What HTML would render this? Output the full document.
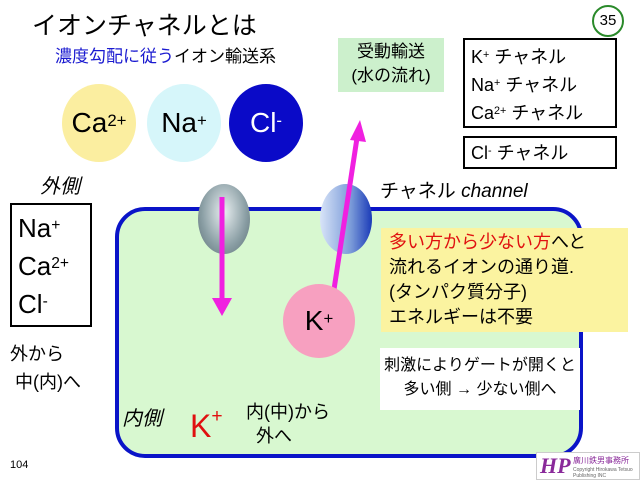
<!DOCTYPE html>
<html><head><meta charset="utf-8"><style>
body{margin:0;width:640px;height:480px;background:#fff;position:relative;overflow:hidden;font-family:"Liberation Sans","Noto Sans CJK JP",sans-serif;color:#000}
.a{position:absolute;white-space:nowrap}
sup{font-size:60%;vertical-align:top;position:relative;top:-2px}
</style></head><body>
<div class="a" style="left:32px;top:6px;font-size:25px">イオンチャネルとは</div>
<div class="a" style="left:55px;top:42px;font-size:17px"><span style="color:#1a1ad0">濃度勾配に従う</span>イオン輸送系</div>
<div class="a" style="left:592px;top:5px;width:28px;height:28px;border:2px solid #2a8a2a;border-radius:50%;font-size:15px;text-align:center;line-height:28px">35</div>
<div class="a" style="left:338px;top:38px;width:106px;height:52px;background:#ccf0cc;font-size:17px;line-height:24px;text-align:center;padding-top:2px">受動輸送<br>(水の流れ)</div>
<div class="a" style="left:463px;top:38px;width:154px;border:2px solid #000;font-size:18px;line-height:28px;padding-left:6px;box-sizing:border-box;height:90px;padding-top:3px">K<sup>+</sup> チャネル<br>Na<sup>+</sup> チャネル<br>Ca<sup>2+</sup> チャネル</div>
<div class="a" style="left:463px;top:136px;width:154px;height:33px;border:2px solid #000;box-sizing:border-box;font-size:18px;line-height:30px;padding-left:6px">Cl<sup>-</sup> チャネル</div>
<div class="a" style="left:62px;top:84px;width:74px;height:78px;border-radius:50%;background:#fbeea0;font-size:28px;text-align:center;line-height:78px">Ca<sup>2+</sup></div>
<div class="a" style="left:147px;top:84px;width:74px;height:78px;border-radius:50%;background:#d6f6fa;font-size:28px;text-align:center;line-height:78px">Na<sup>+</sup></div>
<div class="a" style="left:229px;top:84px;width:74px;height:78px;border-radius:50%;background:#0a0ac8;color:#fff;font-size:28px;text-align:center;line-height:78px">Cl<sup>-</sup></div>
<div class="a" style="left:40px;top:170px;font-size:20px;font-style:italic">外側</div>
<div class="a" style="left:115px;top:207px;width:468px;height:251px;box-sizing:border-box;border:4px solid #0a14c8;border-radius:30px;background:#d8f8d0"></div>
<div class="a" style="left:10px;top:203px;width:82px;height:124px;border:2px solid #000;box-sizing:border-box;font-size:26px;line-height:38px;padding:4px 0 0 6px">Na<sup>+</sup><br>Ca<sup>2+</sup><br>Cl<sup>-</sup></div>
<div class="a" style="left:10px;top:340px;font-size:18px;line-height:28px">外から<br>&nbsp;中(内)へ</div>
<div class="a" style="left:198px;top:184px;width:52px;height:70px;border-radius:50%;background:radial-gradient(ellipse at 50% 40%,#e8eef0,#8a9ea4 60%,#5a6e74)"></div>
<div class="a" style="left:320px;top:184px;width:52px;height:70px;border-radius:50%;background:linear-gradient(90deg,#d8e4f8,#7a9ad8 60%,#1a3ab8)"></div>
<svg class="a" style="left:0;top:0" width="640" height="480">
<line x1="222" y1="197" x2="222" y2="300" stroke="#f020e0" stroke-width="5"/>
<polygon points="212,298 232,298 222,316" fill="#f020e0"/>
<line x1="333" y1="296" x2="357" y2="138" stroke="#f020e0" stroke-width="5"/>
<polygon points="350,140 366,142 360,120" fill="#f020e0"/>
</svg>
<div class="a" style="left:380px;top:176px;font-size:19px">チャネル <i>channel</i></div>
<div class="a" style="left:381px;top:228px;width:247px;height:104px;background:#fbf3a0;font-size:18px;line-height:25px;padding:2px 0 0 8px;box-sizing:border-box"><span style="color:#e01010">多い方から少ない方</span>へと<br>流れるイオンの通り道.<br>(タンパク質分子)<br>エネルギーは不要</div>
<div class="a" style="left:283px;top:284px;width:72px;height:74px;border-radius:50%;background:#f7a0c0;font-size:28px;text-align:center;line-height:74px">K<sup>+</sup></div>
<div class="a" style="left:380px;top:348px;width:200px;height:62px;background:#fff;font-size:16px;line-height:24px;text-align:center;padding-top:6px;box-sizing:border-box">刺激によりゲートが開くと<br>多い側 → 少ない側へ</div>
<div class="a" style="left:122px;top:402px;font-size:20px;font-style:italic">内側</div>
<div class="a" style="left:190px;top:408px;font-size:32px;color:#e01010">K<sup>+</sup></div>
<div class="a" style="left:246px;top:400px;font-size:18px;line-height:24px">内(中)から<br>&nbsp;&nbsp;外へ</div>
<div class="a" style="left:10px;top:459px;font-size:11px">104</div>
<div class="a" style="left:536px;top:452px;width:104px;height:28px;border:1px solid #ccc;box-sizing:border-box;background:#fff">
<span style="position:absolute;left:3px;top:0;font:italic bold 22px 'Liberation Serif',serif;color:#8a2a9a">HP</span>
<span style="position:absolute;left:36px;top:2px;font-size:8px;color:#8a2a9a">廣川鉄男事務所</span>
<span style="position:absolute;left:36px;top:14px;font-size:5px;color:#666">Copyright Hirokawa Tetsuo<br>Publishing INC</span></div>
</body></html>
